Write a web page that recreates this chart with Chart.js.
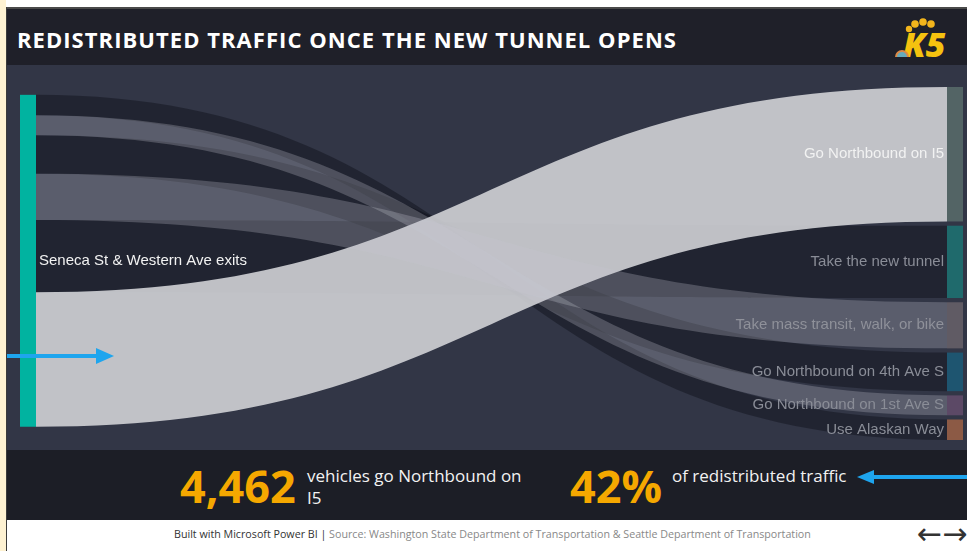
<!DOCTYPE html>
<html>
<head>
<meta charset="utf-8">
<script src="https://cdn.jsdelivr.net/npm/chart.js@4.4.1/dist/chart.umd.min.js"></script>
<style>
  body { margin:0; width:967px; height:551px; overflow:hidden; background:#fff; position:relative; font-family:"Open Sans", sans-serif; }
  .strip { position:absolute; left:0; top:0; width:6px; height:551px; background:#fef2d2; }
  .edge { position:absolute; left:6px; top:7px; width:1px; height:544px; background:#3b3b3b; }
  .topline { position:absolute; left:6px; top:7px; width:961px; height:2px; background:#4a4a4a; }
  .titlebar { position:absolute; left:7px; top:9px; width:960px; height:56px; background:#1f2029; }
  .titlebar h1 { margin:0; position:absolute; left:10px; top:15px; font-size:22px; font-weight:700; color:#fff; letter-spacing:1.05px; white-space:nowrap; }
  .plot { position:absolute; left:7px; top:65px; width:960px; height:385px; background:#323646; }
  .kpi { position:absolute; left:7px; top:450px; width:960px; height:70px; background:#1c1e26; color:#fff; }
  .big { position:absolute; top:6px; font-size:45px; font-weight:700; color:#f5a800; line-height:60px; }
  .small { position:absolute; top:15px; font-size:17px; line-height:22px; color:#f2f2f2; }
  .footer { position:absolute; left:7px; top:520px; width:960px; height:31px; }
  .foot { position:absolute; left:167px; top:7px; font-size:10.7px; color:#888; white-space:nowrap; }
  .foot b { font-weight:400; color:#333; }
  .nav { position:absolute; left:910px; top:-4px; font-size:30px; color:#333; font-family:"DejaVu Sans", sans-serif; }
</style>
</head>
<body>
<div class="strip"></div>
<div class="titlebar">
  <h1 id="ttl">REDISTRIBUTED TRAFFIC ONCE THE NEW TUNNEL OPENS</h1>
  <svg style="position:absolute;left:880px;top:8px" width="80" height="44">
    <circle cx="28" cy="7" r="3.8" fill="#f3b51c"/><circle cx="36" cy="5" r="3.8" fill="#f3b51c"/><circle cx="44" cy="7" r="3.8" fill="#f3b51c"/>
    <circle cx="22" cy="12" r="3.2" fill="#f3b51c"/>
    <text x="16" y="40" font-family="Open Sans" font-weight="800" font-style="italic" font-size="34" fill="#f5c20f">K5</text>
    <path d="M8 40 a7 7 0 0 1 14 0z" fill="#d84" />
    <path d="M10 40 a5 5 0 0 1 10 0z" fill="#6ab" />
  </svg>
</div>
<div class="topline"></div>
<div class="plot"><canvas id="sankey" width="960" height="385"></canvas></div>
<div class="kpi">
  <div class="big" style="left:173px">4,462</div>
  <div class="small" style="left:300px">vehicles go Northbound on<br>I5</div>
  <div class="big" style="left:563px">42%</div>
  <div class="small" style="left:665px">of redistributed traffic</div>
</div>
<div class="footer">
  <div class="foot"><b>Built with Microsoft Power BI |</b> Source: Washington State Department of Transportation &amp; Seattle Department of Transportation</div>
  <div class="nav">&larr;&rarr;</div>
</div>
<div class="edge"></div>
<svg style="position:absolute;left:0;top:0" width="967" height="551">
  <line x1="7" y1="356" x2="100" y2="356" stroke="#1ea5ee" stroke-width="4"/>
  <path d="M96 348 L114 356 L96 364 Z" fill="#1ea5ee"/>
  <line x1="870" y1="477" x2="967" y2="477" stroke="#1ea5ee" stroke-width="4"/>
  <path d="M874 470 L857 477 L874 484 Z" fill="#1ea5ee"/>
</svg>

<script>
// one source, six destinations (vehicles)
var sourceName = "Seneca St & Western Ave exits";
var targets = [
  "Go Northbound on I5",
  "Take the new tunnel",
  "Take mass transit, walk, or bike",
  "Go Northbound on 4th Ave S",
  "Go Northbound on 1st Ave S",
  "Use Alaskan Way"
];
var vehicles = [4462, 2400, 1530, 1280, 660, 680];
// order the flows leave the source node, top to bottom
var sourceOrder = [5, 4, 3, 2, 1, 0];

var nodeColors = ["#536465", "#1f6a6c", "#605b64", "#1e5570", "#5c4966", "#8c5a45"];
var flowColors = [
  "rgba(205,206,211,0.92)",
  "rgba(14,16,24,0.45)",
  "rgba(200,200,212,0.27)",
  "rgba(14,16,24,0.45)",
  "rgba(200,200,212,0.27)",
  "rgba(14,16,24,0.45)"
];
var labelColors = ["#f2f2f2", "#8a8d97", "#8f919a", "#8a8d97", "#8a8d97", "#8a8d97"];
var drawOrder = [1, 3, 5, 0, 2, 4];
var nodeGap = 140;
var nodeWidth = 16;

var total = vehicles.reduce(function (a, b) { return a + b; }, 0);

var sankeyPlugin = {
  id: "sankey",
  afterDatasetsDraw: function (chart) {
    var ctx = chart.ctx;
    var xs = chart.scales.x, ys = chart.scales.y;
    var span = ys.max - ys.min;

    var tgt = [], acc = 0;
    vehicles.forEach(function (v, i) {
      tgt[i] = { top: acc, bottom: acc + v };
      acc += v + nodeGap;
    });
    var lStart = (span - total) / 2 - 90;
    var src = [], lacc = lStart;
    sourceOrder.forEach(function (i) {
      src[i] = { top: lacc, bottom: lacc + vehicles[i] };
      lacc += vehicles[i];
    });

    var x0 = xs.getPixelForValue(0), x1 = xs.getPixelForValue(1);
    var xl = x0 + nodeWidth, xr = x1 - nodeWidth, xm = (xl + xr) / 2;

    ctx.save();
    drawOrder.forEach(function (i) {
      var s = src[i], t = tgt[i];
      var sT = ys.getPixelForValue(s.top), sB = ys.getPixelForValue(s.bottom);
      var tT = ys.getPixelForValue(t.top), tB = ys.getPixelForValue(t.bottom);
      ctx.beginPath();
      ctx.moveTo(xl, sT);
      ctx.bezierCurveTo(xm, sT, xm, tT, xr, tT);
      ctx.lineTo(xr, tB);
      ctx.bezierCurveTo(xm, tB, xm, sB, xl, sB);
      ctx.closePath();
      ctx.fillStyle = flowColors[i];
      ctx.fill();
    });

    // nodes
    var lT = ys.getPixelForValue(lStart);
    var lB = ys.getPixelForValue(lStart + total);
    ctx.fillStyle = "#01b3a0";
    ctx.fillRect(x0, lT, nodeWidth, lB - lT);
    vehicles.forEach(function (v, i) {
      var tT = ys.getPixelForValue(tgt[i].top), tB = ys.getPixelForValue(tgt[i].bottom);
      ctx.fillStyle = nodeColors[i];
      ctx.fillRect(xr, tT, nodeWidth, tB - tT);
    });

    // labels
    ctx.font = "15px 'Liberation Sans', Arial, sans-serif";
    ctx.textBaseline = "middle";
    ctx.textAlign = "left";
    ctx.fillStyle = "#f2f2f2";
    ctx.fillText(sourceName, x0 + nodeWidth + 3, (lT + lB) / 2);
    ctx.textAlign = "right";
    targets.forEach(function (name, i) {
      var cy = (ys.getPixelForValue(tgt[i].top) + ys.getPixelForValue(tgt[i].bottom)) / 2;
      ctx.fillStyle = labelColors[i];
      ctx.fillText(name, xr - 3, cy);
    });
    ctx.restore();
  }
};

new Chart("sankey", {
  type: "scatter",
  data: { datasets: [{ data: [], pointRadius: 0 }] },
  options: {
    responsive: false,
    animation: false,
    layout: { padding: { left: 13, right: 4, top: 22, bottom: 10 } },
    plugins: { legend: { display: false }, tooltip: { enabled: false } },
    scales: {
      x: { type: "linear", min: 0, max: 1, display: false },
      y: { type: "linear", min: 0, max: total + nodeGap * (targets.length - 1), reverse: true, display: false }
    }
  },
  plugins: [sankeyPlugin]
});
</script>
</body>
</html>
